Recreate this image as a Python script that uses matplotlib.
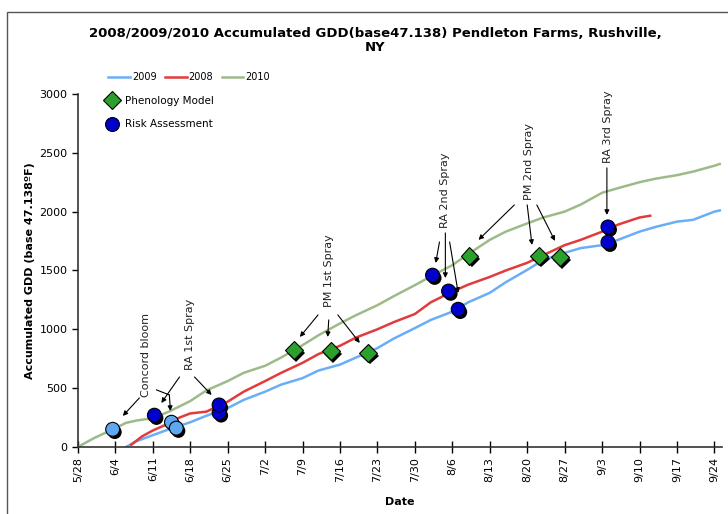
import matplotlib
matplotlib.use("Agg")
import matplotlib.pyplot as plt
import matplotlib.patheffects as pe
from matplotlib.patches import Rectangle
from matplotlib.lines import Line2D

# x values are days after 5/28
tick_labels = ["5/28", "6/4", "6/11", "6/18", "6/25", "7/2", "7/9", "7/16", "7/23",
               "7/30", "8/6", "8/13", "8/20", "8/27", "9/3", "9/10", "9/17", "9/24"]

days_2010 = [0, 3, 7, 9, 11, 14, 17, 21, 24, 28, 31, 35, 38, 42, 45, 49, 52, 56, 59, 63,
             66, 70, 73, 77, 80, 84, 87, 91, 94, 98, 101, 105, 108, 112, 115, 119, 120]
gdd_2010 = [0, 75, 160, 205, 225, 245, 300, 390, 480, 560, 630, 690, 760, 865, 950, 1050,
            1120, 1205, 1280, 1375, 1450, 1545, 1640, 1760, 1830, 1900, 1950, 2000, 2060,
            2160, 2200, 2250, 2280, 2310, 2340, 2390, 2405]

days_2008 = [10, 12, 14, 17, 19, 21, 24, 28, 31, 35, 38, 42, 45, 49, 52, 56, 59, 63, 66,
             70, 73, 77, 80, 84, 87, 91, 94, 98, 100, 101, 105, 107]
gdd_2008 = [20, 90, 140, 200, 250, 285, 300, 385, 470, 560, 630, 715, 790, 860, 930, 1000,
            1060, 1130, 1230, 1320, 1380, 1445, 1500, 1565, 1630, 1715, 1760, 1830, 1870,
            1890, 1950, 1965]

days_2009 = [9, 11, 14, 17, 19, 21, 24, 28, 31, 35, 38, 42, 45, 49, 52, 56, 59, 63, 66, 70,
             73, 77, 80, 84, 87, 91, 94, 98, 101, 105, 108, 112, 115, 119, 120]
gdd_2009 = [0, 50, 100, 150, 180, 210, 265, 330, 400, 470, 530, 585, 650, 700, 760, 840,
            920, 1010, 1080, 1150, 1230, 1310, 1400, 1505, 1590, 1650, 1690, 1715, 1760,
            1830, 1870, 1915, 1930, 2000, 2010]

pm_days = [40.4, 47.3, 54.2, 73.2, 86.2, 90.1]
pm_gdd = [825, 815, 800, 1625, 1625, 1615]

ra_light_days = [6.5, 17.5, 18.4]
ra_light_gdd = [150, 210, 160]
ra_days = [14.3, 26.4, 26.4, 66.3, 69.3, 71.1, 99.1, 99.1]
ra_gdd = [270, 290, 357, 1460, 1325, 1170, 1740, 1870]

# annotations: label, text anchor (bottom of rotated text), arrows (tail, head)
notes = [
    ("Concord bloom", (12.7, 425), [((11.5, 417), (8.4, 264))]),
    ("RA 1st Spray", (20.9, 655), [((19.0, 595), (15.6, 374)), ((21.8, 595), (25.0, 442))]),
    ("PM 1st Spray", (46.9, 1190), [((44.9, 1122), (41.5, 935)), ((46.9, 1080), (46.7, 935)),
                                    ((48.6, 1122), (52.7, 884))]),
    ("RA 2nd Spray", (68.7, 1860), [((67.6, 1742), (66.9, 1564)), ((68.7, 1819), (68.7, 1436)),
                                    ((69.5, 1742), (71.1, 1309))]),
    ("PM 2nd Spray", (84.4, 2100), [((81.6, 2057), (74.9, 1760)), ((84.0, 2057), (84.9, 1717)),
                                    ((85.8, 2057), (89.2, 1751))]),
    ("RA 3rd Spray", (99.1, 2414), [((98.9, 2372), (98.9, 1972))]),
]
# elbow connector from "Concord bloom"
elbow_x = [14.7, 17.1]
elbow_y = [485, 442]
elbow_head = (17.3, 306)

c2009 = "#6aaef5"
c2008 = "#e23b3b"
c2010 = "#9dbb88"

fig = plt.figure(figsize=(7.28, 5.14), dpi=100)
ax = fig.add_axes([0.107, 0.1304, 0.8846, 0.6868])

# outer chart border
fig.patches.append(Rectangle((7 / 728, -0.1), 1.2, 1.1 - 12 / 514, transform=fig.transFigure,
                             fill=False, edgecolor="#555555", lw=1.0))

ax.plot(days_2009, gdd_2009, color=c2009, lw=1.8, label="2009")
ax.plot(days_2008, gdd_2008, color=c2008, lw=1.8, label="2008")
ax.plot(days_2010, gdd_2010, color=c2010, lw=1.8, label="2010")

shadow = [pe.SimplePatchShadow(offset=(1.5, -2), shadow_rgbFace="black", alpha=1.0), pe.Normal()]
ax.plot(pm_days, pm_gdd, ls="none", marker="D", ms=9, mfc="#2ca02c", mec="black", mew=0.8,
        path_effects=shadow, zorder=5)
ax.plot(ra_light_days, ra_light_gdd, ls="none", marker="o", ms=10, mfc="#5ea8f0", mec="black",
        mew=0.8, path_effects=shadow, zorder=5)
ax.plot(ra_days, ra_gdd, ls="none", marker="o", ms=10, mfc="#0000cc", mec="black", mew=0.8,
        path_effects=shadow, zorder=5)

arrow = dict(arrowstyle="-|>", lw=0.8, color="black", mutation_scale=7, shrinkA=0, shrinkB=0)
for label, pos, arrows in notes:
    ax.text(pos[0], pos[1], label, rotation=90, ha="center", va="bottom", fontsize=8,
            color="#222222")
    for tail, head in arrows:
        ax.annotate("", xy=head, xytext=tail, arrowprops=arrow)
ax.plot(elbow_x, elbow_y, color="black", lw=0.8)
ax.annotate("", xy=elbow_head, xytext=(elbow_x[-1], elbow_y[-1]), arrowprops=arrow)

ax.set_xlim(0, 120.4)
ax.set_ylim(0, 3000)
ax.set_xticks(range(0, 120, 7))
ax.set_xticklabels(tick_labels, rotation=90, fontsize=8)
ax.set_yticks(range(0, 3001, 500))
ax.tick_params(axis="y", labelsize=8, direction="out", length=4, width=1)
ax.tick_params(axis="x", direction="inout", length=8, width=1, pad=3)
for s in ["top", "right"]:
    ax.spines[s].set_visible(False)
for s in ["left", "bottom"]:
    ax.spines[s].set_color("#333333")
    ax.spines[s].set_linewidth(1.2)

ax.set_xlabel("Date", fontsize=8, fontweight="bold", labelpad=11)
ax.set_ylabel("Accumulated GDD (base 47.138ºF)", fontsize=8, fontweight="bold", labelpad=3)

fig.text(0.515, 0.921, "2008/2009/2010 Accumulated GDD(base47.138) Pendleton Farms, Rushville,\nNY",
         ha="center", va="center", fontsize=9.5, fontweight="bold", linespacing=1.1)

leg1 = fig.legend(handles=ax.get_lines()[:3], loc="center left", bbox_to_anchor=(0.137, 0.85),
                  ncol=3, frameon=False, fontsize=7, handlelength=2.2, columnspacing=0.9,
                  handletextpad=0.2)
h_pm = Line2D([], [], ls="none", marker="D", ms=9, mfc="#2ca02c", mec="black", mew=0.8)
h_ra = Line2D([], [], ls="none", marker="o", ms=10, mfc="#0000cc", mec="black", mew=0.8)
fig.legend(handles=[h_pm, h_ra], labels=["Phenology Model", "Risk Assessment"],
           loc="upper left", bbox_to_anchor=(0.134, 0.832), frameon=False, fontsize=7.5,
           handlelength=1.0, handletextpad=0.7, labelspacing=1.3)

fig.savefig("out.png", dpi=100)
